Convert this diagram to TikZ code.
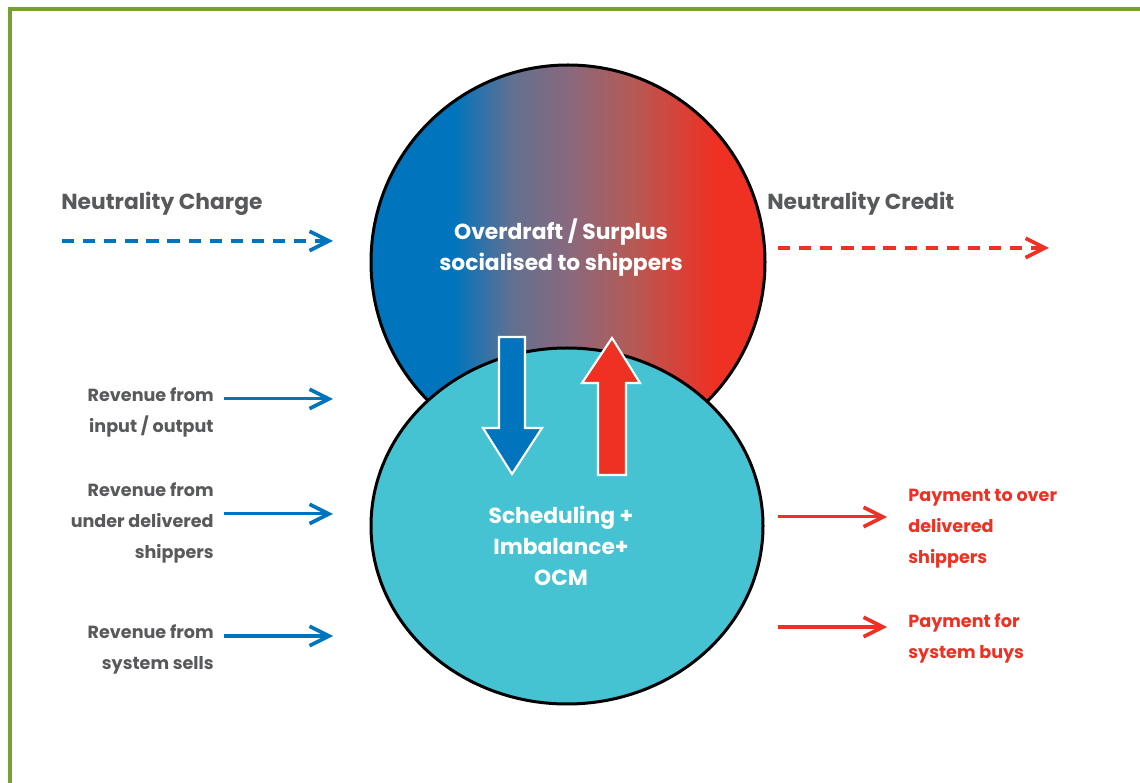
\documentclass[tikz,border=0pt]{standalone}
\usepackage{fontspec}
\setmainfont{Poppins}
\usetikzlibrary{arrows.meta}
\definecolor{ngblue}{HTML}{0075BD}
\definecolor{ngred}{HTML}{EF3124}
\definecolor{ngteal}{HTML}{45C3D3}
\definecolor{nggrey}{HTML}{58595B}
\definecolor{nggreen}{HTML}{77A032}
\definecolor{ngmidb}{HTML}{63708F}
\definecolor{ngmid}{HTML}{88697E}
\definecolor{ngmidr}{HTML}{B45A56}
\pgfdeclarehorizontalshading{neutral}{100bp}{color(0bp)=(ngblue); color(35.5bp)=(ngblue); color(43bp)=(ngmidb); color(50bp)=(ngmid); color(58bp)=(ngmidr); color(68.5bp)=(ngred); color(100bp)=(ngred)}
\begin{document}
\begin{tikzpicture}[x=0.02cm,y=-0.02cm,
    flow/.style={line width=3pt*0.57, -{Straight Barb[length=11pt,width=11pt,line width=2.1pt]}},
    dflow/.style={flow, line width=4pt*0.57, dash pattern=on 7pt off 5pt},
    lbl/.style={font=\bfseries\fontsize{10}{17.6}\selectfont, inner sep=0pt},
    big/.style={font=\bfseries\fontsize{12.4}{17.6}\selectfont, inner sep=0pt},
    blockarr/.style={draw=white, line width=1.2pt, line join=miter}]
    \useasboundingbox (0,0) rectangle (1140,783);
    \fill[white] (0,0) rectangle (1140,783);
    \draw[nggreen, line width=4*0.02cm] (1140,9) -- (10,9) -- (10,783);
    % the two circles
    \shade[shading=neutral, draw=black, line width=3*0.02cm] (568,262) circle [radius=197*0.02cm];
    \draw[fill=ngteal, draw=black, line width=3*0.02cm] (567,526) ellipse [x radius=196*0.02cm, y radius=178*0.02cm];
    \node [big, white, align=center] (pool) at (561,248) {Overdraft / Surplus\\socialised to shippers};
    \node [big, white, align=center] (sched) at (561,546) {Scheduling +\\Imbalance+\\OCM};
    % block arrows between them
    \filldraw[blockarr, fill=ngblue] (499,337) -- (525,337) -- (525,428) -- (542,428) -- (512,474) -- (483,428) -- (499,428) -- cycle;
    \filldraw[blockarr, fill=ngred] (598,475) -- (626,475) -- (626,383) -- (640,383) -- (612,338) -- (582,383) -- (598,383) -- cycle;
    % neutrality
    \node [big, nggrey, anchor=west] (charge) at (61,204) {Neutrality Charge};
    \node [big, nggrey, anchor=west] (credit) at (767,204) {Neutrality Credit};
    \coordinate (c1) at (62,241); \coordinate (c2) at (333,241);
    \coordinate (d1) at (778,248); \coordinate (d2) at (1049,248);
    \draw[dflow, ngblue] (c1) -- (c2);
    \draw[dflow, ngred] (d1) -- (d2);
    % revenue in
    \node [lbl, nggrey, align=right, anchor=east] (rev1) at (214,412) {Revenue from\\input / output};
    \node [lbl, nggrey, align=right, anchor=east] (rev2) at (214,523) {Revenue from\\under delivered\\shippers};
    \node [lbl, nggrey, align=right, anchor=east] (rev3) at (214,649) {Revenue from\\system sells};
    \coordinate (r1) at (333,399); \coordinate (r2) at (333,514); \coordinate (r3) at (333,636);
    \draw[flow, ngblue] (224,399) -- (r1);
    \draw[flow, ngblue] (224,514) -- (r2);
    \draw[flow, ngblue] (224,636) -- (r3);
    % payments out
    \node [lbl, ngred, align=left, anchor=west] (pay1) at (908,529) {Payment to over\\delivered\\shippers};
    \node [lbl, ngred, align=left, anchor=west] (pay2) at (908,638) {Payment for\\system buys};
    \coordinate (p1) at (778,517); \coordinate (p2) at (778,627);
    \draw[flow, ngred] (p1) -- (887,517);
    \draw[flow, ngred] (p2) -- (887,627);
\end{tikzpicture}
\end{document}
